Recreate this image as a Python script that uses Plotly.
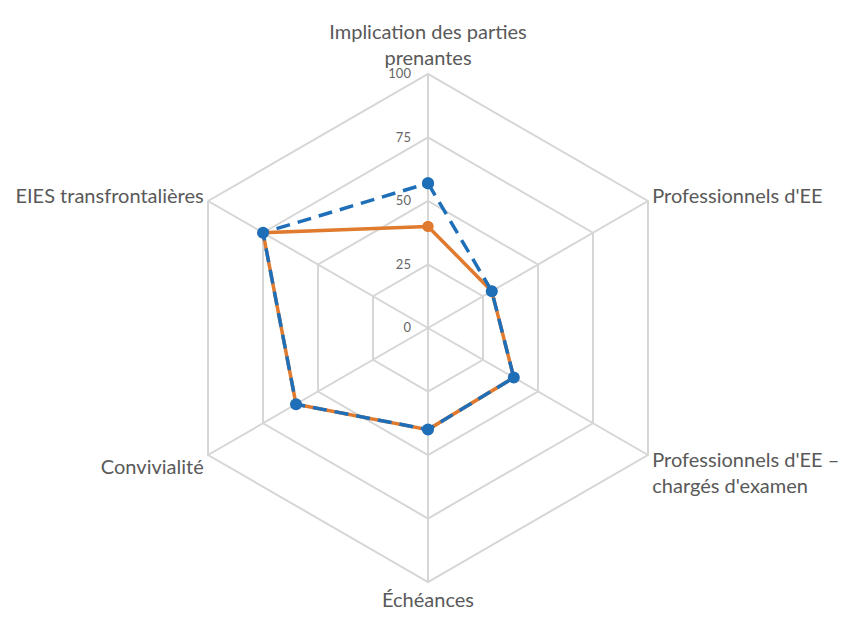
import plotly.graph_objects as go

categories = [
    "Implication des parties<br>prenantes",
    "Professionnels d'EE",
    "Professionnels d'EE –<br>chargés d'examen",
    "Échéances",
    "Convivialité",
    "EIES transfrontalières",
]
series_orange = [40, 29, 39, 40, 60, 75]
series_blue = [57, 29, 39, 40, 60, 75]
radial_ticks = [0, 25, 50, 75, 100]

W, H = 843, 619
cx, cy, R = 428, 328, 254

fig = go.Figure()

# closed polygons: repeat first point
def closed(vals):
    return vals + vals[:1]

cats_closed = closed(categories)

fig.add_trace(go.Scatterpolar(
    r=closed(series_orange), theta=cats_closed, mode="lines+markers",
    line=dict(color="#E07A2F", width=3.5),
    marker=dict(color="#E07A2F", size=11),
    showlegend=False,
))
fig.add_trace(go.Scatterpolar(
    r=closed(series_blue), theta=cats_closed, mode="lines+markers",
    line=dict(color="#1F6FB8", width=3.5, dash="14px,8px"),
    marker=dict(color="#1F6FB8", size=12),
    showlegend=False,
))

fig.update_layout(
    width=W, height=H,
    margin=dict(l=0, r=0, t=0, b=0),
    paper_bgcolor="white",
    font=dict(family="Lato, Open Sans, sans-serif", color="#595959"),
    polar=dict(
        domain=dict(x=[(cx - R) / W, (cx + R) / W],
                    y=[(H - cy - R) / H, (H - cy + R) / H]),
        bgcolor="white",
        gridshape="linear",
        angularaxis=dict(
            direction="clockwise", rotation=90,
            categoryorder="array", categoryarray=categories,
            gridcolor="#D6D6D6", gridwidth=2,
            linecolor="#D6D6D6", linewidth=2,
            tickfont=dict(size=20, color="#595959"),
            ticks="",
        ),
        radialaxis=dict(
            range=[0, 100], tickvals=radial_ticks,
            angle=90, side="counterclockwise", tickangle=90,
            gridcolor="#D6D6D6", gridwidth=2,
            showline=False,
            ticks="outside", ticklen=12, tickcolor="rgba(0,0,0,0)",
            tickfont=dict(size=13, color="#666666"),
        ),
    ),
)

fig.write_html("out.html")
